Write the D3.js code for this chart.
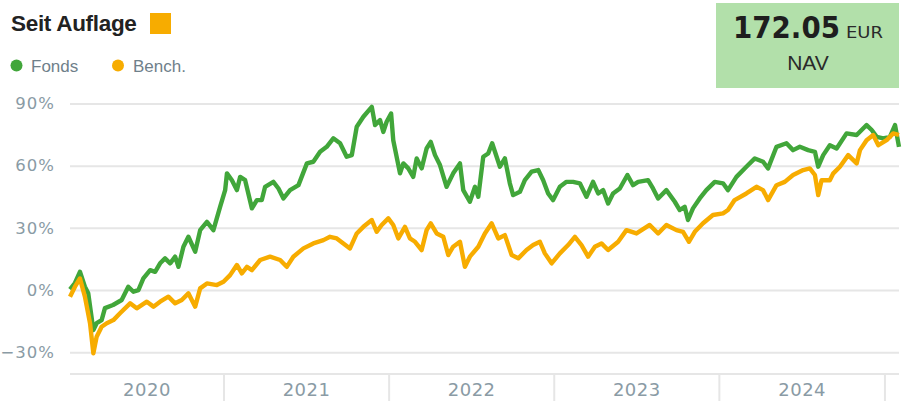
<!DOCTYPE html>
<html>
<head>
<meta charset="utf-8">
<script src="https://cdn.jsdelivr.net/npm/d3@7"></script>
<style>
  html, body { margin: 0; padding: 0; background: #fff; }
  svg { display: block; }
</style>
</head>
<body>
<svg id="chart" width="915" height="401"></svg>
<script>
// ---- Data (time as decimal years, values in %) ----
const fundTimes = [2020.070,2020.100,2020.130,2020.160,2020.180,2020.211,2020.231,2020.261,2020.281,2020.330,2020.382,2020.422,2020.453,2020.483,2020.513,2020.554,2020.584,2020.614,2020.644,2020.675,2020.705,2020.725,2020.755,2020.785,2020.826,2020.856,2020.897,2020.936,2020.977,2021.007,2021.018,2021.048,2021.078,2021.098,2021.128,2021.169,2021.199,2021.229,2021.249,2021.299,2021.330,2021.360,2021.400,2021.451,2021.502,2021.541,2021.582,2021.622,2021.662,2021.703,2021.743,2021.774,2021.804,2021.844,2021.895,2021.915,2021.945,2021.965,2021.985,2022.012,2022.025,2022.066,2022.086,2022.116,2022.146,2022.167,2022.197,2022.227,2022.252,2022.278,2022.308,2022.348,2022.388,2022.429,2022.449,2022.489,2022.520,2022.540,2022.570,2022.600,2022.624,2022.651,2022.671,2022.701,2022.731,2022.751,2022.792,2022.822,2022.863,2022.903,2022.933,2022.963,2022.993,2023.034,2023.074,2023.114,2023.155,2023.195,2023.235,2023.266,2023.296,2023.326,2023.356,2023.397,2023.443,2023.477,2023.508,2023.568,2023.598,2023.629,2023.679,2023.730,2023.760,2023.790,2023.810,2023.840,2023.881,2023.921,2023.972,2024.022,2024.052,2024.103,2024.163,2024.214,2024.264,2024.294,2024.345,2024.405,2024.445,2024.486,2024.536,2024.577,2024.597,2024.627,2024.667,2024.708,2024.768,2024.829,2024.889,2024.920,2024.950,2024.990,2025.030,2025.061,2025.085];
const fundValues = [0.3,3.4,8.8,1.6,-1.5,-19.3,-16,-14.5,-8.7,-7.2,-4.8,1.6,-0.8,0,5.6,9.6,8.8,12.9,15.3,12.9,16.1,11.2,20.9,25.7,18.5,28.9,32.9,28.9,40.2,48.2,56.3,53,48.2,54.6,53,39.4,43.4,43.4,49.8,52.2,49,44.2,48.2,50.6,61.1,61.9,66.7,69.1,73.2,70.8,64.3,65.1,78.8,83.6,88.4,79.6,82,76.3,81.2,85.2,72.3,56.3,61.1,58.7,54.6,63.5,58.7,68.3,71.5,65.1,60.3,49.8,56.3,61.1,48.2,42.6,49.8,45,64.3,65.9,70.8,64.3,59.5,63.5,51.5,45.8,47.4,53,57.1,57.9,53,46.6,43.4,49.8,52.2,52.2,51.5,45,52.2,46.6,48.2,41.8,46.6,49,55.5,50.6,52.2,53,49,44.2,48.2,42.6,38.6,40.2,33.8,39.4,44.2,48.2,52.2,51.5,48.2,54.6,59.5,63.5,61.9,58.7,69.1,70.8,67.5,69.1,67.5,66.7,59.5,65.1,69.9,68.3,75.6,74.8,79.6,77.2,73.9,73.2,73.9,79.6,69.1];

const benchTimes = [2020.070,2020.100,2020.130,2020.160,2020.191,2020.211,2020.231,2020.261,2020.292,2020.332,2020.372,2020.433,2020.473,2020.534,2020.574,2020.614,2020.664,2020.705,2020.745,2020.785,2020.826,2020.856,2020.897,2020.957,2020.997,2021.037,2021.078,2021.108,2021.139,2021.169,2021.219,2021.279,2021.340,2021.380,2021.420,2021.481,2021.541,2021.602,2021.642,2021.683,2021.723,2021.763,2021.804,2021.844,2021.895,2021.925,2021.955,2021.995,2022.025,2022.056,2022.096,2022.126,2022.157,2022.197,2022.227,2022.252,2022.288,2022.328,2022.358,2022.388,2022.429,2022.459,2022.489,2022.540,2022.580,2022.621,2022.661,2022.701,2022.742,2022.782,2022.832,2022.872,2022.913,2022.943,2022.984,2023.034,2023.084,2023.125,2023.165,2023.205,2023.246,2023.286,2023.326,2023.387,2023.437,2023.498,2023.578,2023.629,2023.679,2023.740,2023.780,2023.816,2023.851,2023.901,2023.961,2024.022,2024.052,2024.092,2024.163,2024.224,2024.264,2024.294,2024.345,2024.395,2024.445,2024.506,2024.546,2024.577,2024.597,2024.617,2024.667,2024.688,2024.728,2024.778,2024.829,2024.849,2024.889,2024.929,2024.960,2025.010,2025.050,2025.085];
const benchValues = [-3.2,1.6,5.6,-3.2,-16,-30.5,-22.5,-17.7,-16,-14.5,-11.2,-6.4,-8.8,-5.6,-8,-5.6,-3.2,-6.4,-4.8,-1.6,-8,0.8,3.2,2.4,4,7.2,12.1,8,11.2,9.6,14.5,16.1,14.5,11.2,16.1,20.1,22.5,24.1,25.7,24.9,22.5,20.1,27.3,30.5,33.8,28.1,31.4,34.6,31.4,24.9,30.5,24.9,23.3,19.3,28.9,32.2,27.3,25.7,16.9,20.9,23.3,11.2,16.1,20.9,27.3,32.2,24.9,26.5,16.9,15.3,19.3,21.7,23.3,17.7,12.9,17.7,21.7,25.7,21.7,16.1,20.9,22.5,19.3,23.3,28.9,27.3,31.4,27.3,31.4,28.9,28.1,23.3,28.1,32.2,36.2,37,38.6,43.4,46.6,49.8,48.2,43.4,50.6,52.2,55.5,57.9,58.7,55.5,45.8,53,53,56.3,59.5,65.1,61.1,67.5,72.3,74.8,69.9,72.3,75.6,74.8];

const yTicks = [-30, 0, 30, 60, 90];
const years = [2020, 2021, 2022, 2023, 2024, 2025];
const seriesNames = ["Fonds", "Bench."];
const navValue = "172.05";
const navUnit = "EUR";
const navLabel = "NAV";
const title = "Seit Auflage";

(function () {
// ---- Helpers ----
function decToDate(t) {
  const yy = Math.floor(t);
  const a = new Date(yy, 0, 1).getTime();
  const b = new Date(yy + 1, 0, 1).getTime();
  return new Date(a + (t - yy) * (b - a));
}
const fund = fundTimes.map((t, i) => ({ d: decToDate(t), v: fundValues[i] }));
const bench = benchTimes.map((t, i) => ({ d: decToDate(t), v: benchValues[i] }));

const GREEN = "#41a63a";
const ORANGE = "#f7ac00";
const GRID = "#e6e6e6";
const LABEL = "#8a9ba5";

const svg = d3.select("#chart");
const pLeft = 70, pRight = 899, pTop = 103.5, pBottom = 374;

const x = d3.scaleTime()
  .domain([decToDate(fundTimes[0]), decToDate(fundTimes[fundTimes.length - 1])])
  .range([pLeft, pRight]);
const y = d3.scaleLinear().domain([-40.5, 90]).range([pBottom, pTop]);

// ---- Title & legend ----
svg.append("text").attr("x", 11).attr("y", 31)
  .attr("font-family", "Liberation Sans, Arial, sans-serif")
  .attr("font-weight", "bold").attr("font-size", 22.5).attr("fill", "#222")
  .attr("letter-spacing", -0.3)
  .text(title);
svg.append("rect").attr("x", 150).attr("y", 13).attr("width", 21).attr("height", 21)
  .attr("fill", ORANGE);

const legend = svg.append("g");
[[GREEN, 16.5, 31], [ORANGE, 118, 133]].forEach((c, i) => {
  legend.append("circle").attr("cx", c[1]).attr("cy", 65.5).attr("r", 6).attr("fill", c[0]);
  legend.append("text").attr("x", c[2]).attr("y", 71.5)
    .attr("font-family", "Liberation Sans, Arial, sans-serif")
    .attr("font-size", 17).attr("fill", "#6f808a").text(seriesNames[i]);
});

// ---- NAV box ----
svg.append("rect").attr("x", 716).attr("y", 3).attr("width", 183).attr("height", 85)
  .attr("fill", "#b2e0aa");
svg.append("text").attr("x", 733).attr("y", 38)
  .attr("font-family", "DejaVu Sans, sans-serif").attr("font-weight", "bold")
  .attr("font-size", 30).attr("fill", "#1e1e1e")
  .attr("textLength", 107).attr("lengthAdjust", "spacingAndGlyphs")
  .text(navValue);
svg.append("text").attr("x", 846).attr("y", 38)
  .attr("font-family", "DejaVu Sans, sans-serif")
  .attr("font-size", 15).attr("fill", "#2a2a2a")
  .attr("textLength", 37).attr("lengthAdjust", "spacingAndGlyphs")
  .text(navUnit);
svg.append("text").attr("x", 808).attr("y", 70).attr("text-anchor", "middle")
  .attr("font-family", "Liberation Sans, Arial, sans-serif")
  .attr("font-size", 21).attr("fill", "#2a2a2a")
  .text(navLabel);

// ---- Y grid & labels ----
const yAxis = d3.axisLeft(y).tickValues(yTicks)
  .tickSize(-(pRight - pLeft)).tickPadding(15)
  .tickFormat(d => d3.format("d")(d) + "%");
const gy = svg.append("g").attr("transform", `translate(${pLeft},0)`).call(yAxis);
gy.select(".domain").remove();
gy.selectAll(".tick line").attr("stroke", GRID).attr("stroke-width", 2);
gy.selectAll(".tick text")
  .attr("font-family", "DejaVu Sans, sans-serif").attr("font-size", 16.5)
  .attr("letter-spacing", 1).attr("fill", LABEL);

// ---- X axis ----
svg.append("line").attr("x1", pLeft).attr("x2", pRight).attr("y1", pBottom).attr("y2", pBottom)
  .attr("stroke", GRID).attr("stroke-width", 2);
const xDomain = x.domain();
years.forEach(yr => {
  const s = new Date(yr, 0, 1), e = new Date(yr + 1, 0, 1);
  if (s > xDomain[0] && s < xDomain[1]) {
    svg.append("line").attr("x1", x(s)).attr("x2", x(s)).attr("y1", pBottom).attr("y2", 401)
      .attr("stroke", GRID).attr("stroke-width", 2);
  }
  const a = x(s < xDomain[0] ? xDomain[0] : s);
  const b = x(e > xDomain[1] ? xDomain[1] : e);
  if (b - a > 60) {
    svg.append("text").attr("x", (a + b) / 2).attr("y", 395.5).attr("text-anchor", "middle")
      .attr("font-family", "DejaVu Sans, sans-serif").attr("font-size", 18)
      .attr("letter-spacing", 0.5).attr("fill", LABEL).text(yr);
  }
});

// ---- Lines ----
const line = d3.line().x(d => x(d.d)).y(d => y(d.v)).curve(d3.curveLinear);
svg.append("path").datum(fund).attr("d", line).attr("fill", "none")
  .attr("stroke", GREEN).attr("stroke-width", 4.4).attr("stroke-linejoin", "round");
svg.append("path").datum(bench).attr("d", line).attr("fill", "none")
  .attr("stroke", ORANGE).attr("stroke-width", 4.4).attr("stroke-linejoin", "round");
})();
</script>
</body>
</html>
